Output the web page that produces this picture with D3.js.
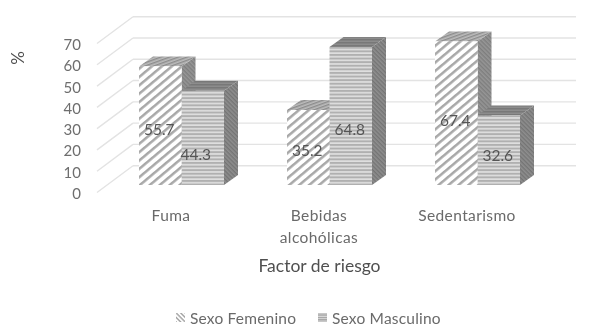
<!DOCTYPE html>
<html><head><meta charset="utf-8">
<script src="https://cdn.jsdelivr.net/npm/d3@7/dist/d3.min.js"></script>
<style>html,body{margin:0;background:#fff}svg{display:block}text{font-family:Lato,"Open Sans",sans-serif}</style>
</head><body><div id="c"></div>
<script>
const categories = ["Fuma", "Bebidas alcohólicas", "Sedentarismo"];
const seriesNames = ["Sexo Femenino", "Sexo Masculino"];
const femenino = [55.7, 35.2, 67.4];
const masculino = [44.3, 64.8, 32.6];
const ticks = [0, 10, 20, 30, 40, 50, 60, 70];
const labelAtFemenino = [26.5, 16.5, 30.5];
const labelAtMasculino = [14.5, 26.5, 14];
const labelShiftMasculino = [-6, 0, 0];

const W = 589, H = 334;
const svg = d3.select("#c").append("svg").attr("width", W).attr("height", H);
const defs = svg.append("defs");
defs.append("filter").attr("id", "soft").append("feGaussianBlur").attr("stdDeviation", 0.5);

function hatch(id, size, rot, bg, fg, sw) {
  const p = defs.append("pattern").attr("id", id).attr("patternUnits", "userSpaceOnUse")
    .attr("width", size).attr("height", size).attr("patternTransform", `rotate(${rot})`);
  p.append("rect").attr("width", size).attr("height", size).attr("fill", bg);
  p.append("rect").attr("width", size).attr("height", sw).attr("fill", fg);
}
hatch("fFront", 6.4, -40, "#ffffff", "#a8a8a8", 2.5);
hatch("mFront", 3.6, 0, "#dedede", "#b0b0b0", 1.9);
hatch("fTop", 3, -20, "#bcbcbc", "#8c8c8c", 1.4);
hatch("fSide", 3, 45, "#969696", "#7e7e7e", 1.4);
hatch("mTop", 3, 0, "#8c8c8c", "#787878", 1.5);
hatch("mSide", 3, 45, "#8e8e8e", "#747474", 1.4);
hatch("fLeg", 3.2, 45, "#ffffff", "#a2a2a2", 1.4);
hatch("mLeg", 2.4, 0, "#e0e0e0", "#a0a0a0", 1.3);

const root = svg.append("g").attr("filter", "url(#soft)");

const yBack = d3.scaleLinear().domain([0, 70]).range([165.7, 16.7]);
const yFront = d3.scaleLinear().domain([0, 70]).range([193, 44]);
const yBar = d3.scaleLinear().domain([0, 70]).range([185, 36]);
const xBack = [133, 576], xFront = 97;
const depthX = 14, depthY = 10;

const x0 = d3.scaleBand().domain(categories).range([107.5, 551.5]);
const x1 = d3.scaleBand().domain(seriesNames).range([31.5, 116.5]);

ticks.forEach(t => {
  root.append("line").attr("x1", xBack[0]).attr("x2", xBack[1])
    .attr("y1", yBack(t)).attr("y2", yBack(t)).attr("stroke", "#e3e3e3").attr("stroke-width", 1.4);
  root.append("line").attr("x1", xFront).attr("x2", xBack[0])
    .attr("y1", yFront(t) - 0.5).attr("y2", yBack(t)).attr("stroke", "#e3e3e3").attr("stroke-width", 1.4);
});

root.selectAll("text.tick").data(ticks).join("text").attr("class", "tick")
  .attr("x", 81).attr("y", d => yFront(d)).attr("text-anchor", "end")
  .attr("dominant-baseline", "central").attr("font-size", 15).attr("fill", "#6e6e6e").text(d => d);

const poly = pts => pts.map(p => p.join(",")).join(" ");
function bar(g, xl, w, v, front, top, side) {
  const y0 = yBar(0), yt = yBar(v), xr = xl + w;
  g.append("polygon").attr("points", poly([[xr, yt], [xr + depthX, yt - depthY], [xr + depthX, y0 - depthY], [xr, y0]])).attr("fill", `url(#${side})`);
  g.append("polygon").attr("points", poly([[xl, yt], [xl + depthX, yt - depthY], [xr + depthX, yt - depthY], [xr, yt]])).attr("fill", `url(#${top})`);
  g.append("rect").attr("x", xl).attr("y", yt).attr("width", w).attr("height", y0 - yt).attr("fill", `url(#${front})`);
}

categories.forEach((c, i) => {
  const g = root.append("g");
  const xf = x0(c) + x1(seriesNames[0]), xm = x0(c) + x1(seriesNames[1]), w = x1.bandwidth();
  bar(g.append("g"), xf, w, femenino[i], "fFront", "fTop", "fSide");
  bar(g.append("g"), xm, w, masculino[i], "mFront", "mTop", "mSide");
  g.append("rect").attr("x", xf).attr("y", yBar(femenino[i])).attr("width", w)
    .attr("height", yBar(0) - yBar(femenino[i])).attr("fill", "url(#fFront)");
  g.append("text").attr("x", xf + w / 2 - 1).attr("y", yBar(labelAtFemenino[i])).attr("text-anchor", "middle")
    .attr("dominant-baseline", "central").attr("font-size", 15.5).attr("fill", "#555").text(femenino[i]);
  g.append("text").attr("x", xm + w / 2 + labelShiftMasculino[i] - 1).attr("y", yBar(labelAtMasculino[i])).attr("text-anchor", "middle")
    .attr("dominant-baseline", "central").attr("font-size", 15.5).attr("fill", "#555").text(masculino[i]);
});

categories.forEach(c => {
  const words = c.includes(" ") ? c.split(" ") : [c];
  const cx = x0(c) + x0.bandwidth() / 2 - 10.5;
  words.forEach((wd, k) => {
    root.append("text").attr("x", cx).attr("y", 215 + k * 21.5).attr("text-anchor", "middle")
      .attr("dominant-baseline", "central").attr("font-size", 15.5).attr("letter-spacing", 0.4)
      .attr("fill", "#6a6a6a").text(wd);
  });
});

root.append("text").attr("x", 319.5).attr("y", 265).attr("text-anchor", "middle")
  .attr("dominant-baseline", "central").attr("font-size", 17.5).attr("fill", "#505050").text("Factor de riesgo");

root.append("text").attr("transform", "translate(17,58) rotate(-90)").attr("text-anchor", "middle")
  .attr("dominant-baseline", "central").attr("font-size", 17).attr("fill", "#505050").text("%");

const legX = [176, 318], legPat = ["fLeg", "mLeg"];
seriesNames.forEach((s, i) => {
  root.append("rect").attr("x", legX[i]).attr("y", 313).attr("width", 9).attr("height", 9).attr("fill", `url(#${legPat[i]})`);
  root.append("text").attr("x", legX[i] + 14).attr("y", 317.5).attr("dominant-baseline", "central")
    .attr("font-size", 15.5).attr("letter-spacing", 0.2).attr("fill", "#6a6a6a").text(s);
});
</script></body></html>
